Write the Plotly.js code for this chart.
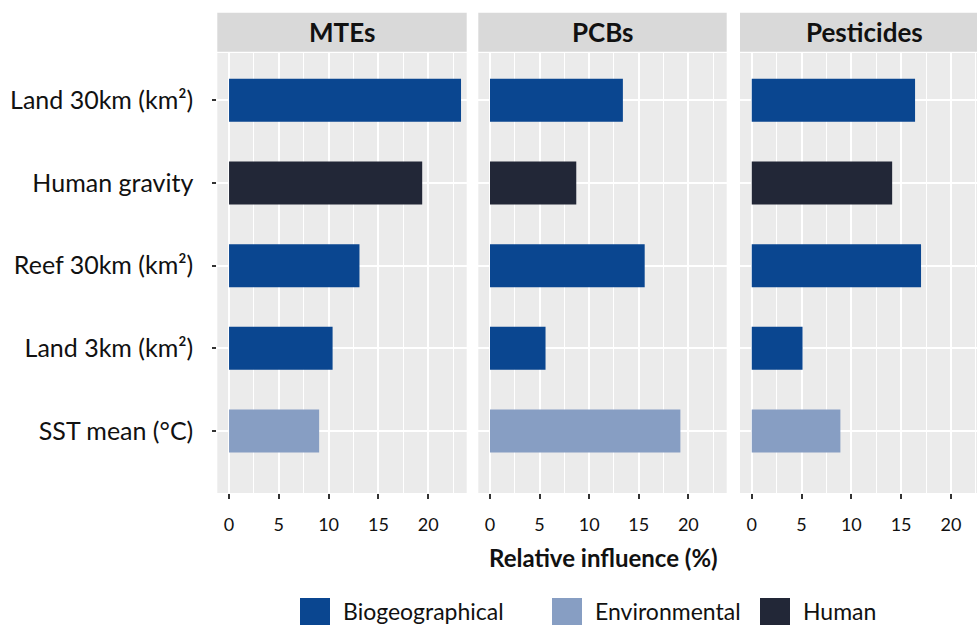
<!DOCTYPE html>
<html>
<head>
<meta charset="utf-8">
<script src="https://cdn.plot.ly/plotly-3.0.1.min.js"></script>
<style>html,body{margin:0;padding:0;background:#fff;}#chart{width:977px;height:626px;}</style>
</head>
<body>
<div id="chart"></div>
<script>
// ---- data ----
const categories = ['Land 30km (km²)', 'Human gravity', 'Reef 30km (km²)', 'Land 3km (km²)', 'SST mean (°C)'];
const groups = ['Biogeographical', 'Human', 'Biogeographical', 'Biogeographical', 'Environmental'];
const panels = ['MTEs', 'PCBs', 'Pesticides'];
const mtes = [23.3, 19.4, 13.1, 10.4, 9.05];
const pcbs = [13.4, 8.7, 15.6, 5.6, 19.2];
const pesticides = [16.4, 14.1, 17.0, 5.1, 8.9];
const legendGroups = ['Biogeographical', 'Environmental', 'Human'];
const xTicks = [0, 5, 10, 15, 20];

const colors = { Biogeographical: '#0a4690', Environmental: '#879ec3', Human: '#222737' };

// ---- layout helpers ----
const W = 977, H = 626;
const plotTop = 53, plotBottom = 493;
const px = x => x / W;
const py = y => (plotBottom - y) / (plotBottom - plotTop);
const FONT = 'Lato, "Open Sans", sans-serif';

const values = [mtes, pcbs, pesticides];
const axisIds = ['x', 'x2', 'x3'];
const domains = [[217.3, 466.7], [478.3, 726.7], [740, 977]];
const ranges = [[-1.18, 23.87], [-1.18, 23.87], [-1.18, 22.62]];

const traces = values.map((v, i) => ({
  type: 'bar',
  orientation: 'h',
  x: v,
  y: categories,
  xaxis: axisIds[i],
  yaxis: 'y',
  width: 0.52,
  marker: { color: groups.map(g => colors[g]), line: { width: 0 } },
  showlegend: false,
  hoverinfo: 'x+y'
}));

const layout = {
  width: W, height: H,
  margin: { l: 0, r: 0, t: plotTop, b: H - plotBottom, pad: 0 },
  paper_bgcolor: '#ffffff',
  plot_bgcolor: '#ebebeb',
  showlegend: false,
  font: { family: FONT, color: '#1a1a1a' },
  yaxis: {
    type: 'category',
    categoryorder: 'array',
    categoryarray: categories.slice().reverse(),
    range: [-0.75, 4.572],
    anchor: 'x',
    showgrid: true, gridcolor: '#ffffff', gridwidth: 2,
    zeroline: false, showline: false,
    ticks: 'outside', ticklen: 4, tickwidth: 2, tickcolor: '#333333',
    ticklabelstandoff: 14,
    tickfont: { family: FONT, size: 25, color: '#111111' },
    fixedrange: true
  },
  annotations: [],
  shapes: []
};

axisIds.forEach((id, i) => {
  const key = i === 0 ? 'xaxis' : 'xaxis' + (i + 1);
  layout[key] = {
    domain: [px(domains[i][0]), px(domains[i][1])],
    range: ranges[i],
    anchor: 'y',
    tickmode: 'array', tickvals: xTicks, ticktext: xTicks.map(String),
    showgrid: true, gridcolor: '#ffffff', gridwidth: 2,
    minor: { dtick: 2.5, tick0: 0, showgrid: true, gridcolor: '#ffffff', gridwidth: 1, ticks: '' },
    zeroline: false, showline: false,
    ticks: 'outside', ticklen: 5, tickwidth: 2, tickcolor: '#333333',
    ticklabelstandoff: 10,
    tickfont: { family: FONT, size: 18, color: '#111111' },
    fixedrange: true
  };
  // facet strip
  layout.shapes.push({
    type: 'rect', xref: 'paper', yref: 'paper', layer: 'below',
    x0: px(domains[i][0]), x1: px(domains[i][1]),
    y0: py(51.7), y1: py(12.7),
    fillcolor: '#d9d9d9', line: { width: 0 }
  });
  layout.annotations.push({
    xref: 'paper', yref: 'paper',
    x: px((domains[i][0] + (i === 2 ? 989 : domains[i][1])) / 2), y: py(32.5),
    xanchor: 'center', yanchor: 'middle', showarrow: false,
    text: '<b>' + panels[i] + '</b>',
    font: { family: FONT, size: 26, color: '#111111' }
  });
});

// axis title
layout.annotations.push({
  xref: 'paper', yref: 'paper', x: px(603), y: py(557),
  xanchor: 'center', yanchor: 'middle', showarrow: false,
  text: '<b>Relative influence (%)</b>',
  font: { family: FONT, size: 24, color: '#111111' }
});

// legend
const legendSquares = [300, 552, 760];
legendGroups.forEach((g, i) => {
  const x0 = legendSquares[i];
  layout.shapes.push({
    type: 'rect', xref: 'paper', yref: 'paper',
    x0: px(x0), x1: px(x0 + 30), y0: py(625), y1: py(598),
    fillcolor: colors[g], line: { width: 0 }
  });
  layout.annotations.push({
    xref: 'paper', yref: 'paper', x: px(x0 + 41), y: py(611),
    xanchor: 'left', yanchor: 'middle', showarrow: false,
    text: g,
    font: { family: FONT, size: 23, color: '#111111' }
  });
});

Plotly.newPlot('chart', traces, layout, { displayModeBar: false, staticPlot: true });
</script>
</body>
</html>
